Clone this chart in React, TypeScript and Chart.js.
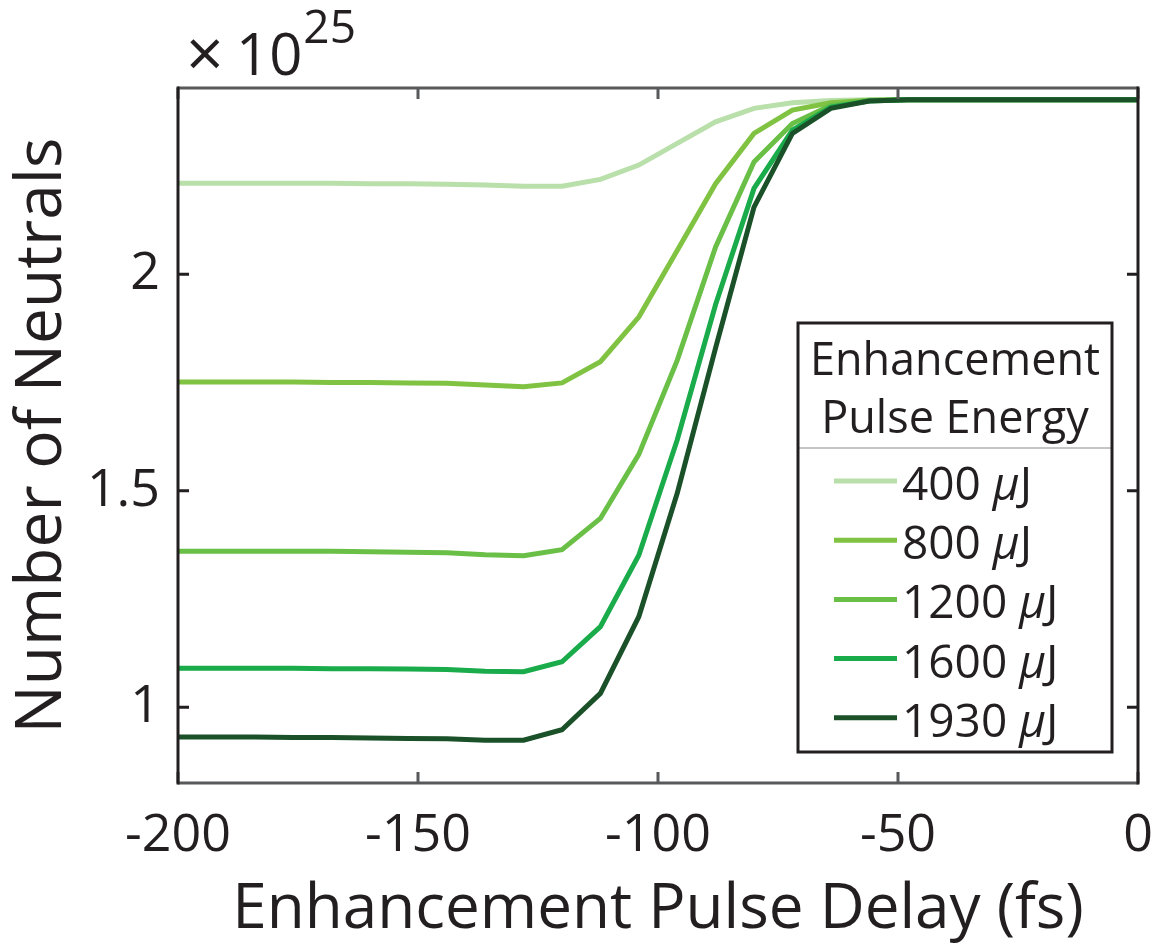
import React, { useEffect, useRef } from 'react';
import { Chart, registerables } from 'chart.js';

Chart.register(...registerables);

// ---- data ----
const delays = [-200, -192, -184, -176, -168, -160, -152, -144, -136, -128, -120, -112, -104, -96, -88, -80, -72, -64, -56, -48, -40, -32, -24, -16, -8, 0];
const neutrals400 = [2.210, 2.210, 2.210, 2.210, 2.210, 2.209, 2.209, 2.208, 2.206, 2.203, 2.203, 2.219, 2.252, 2.302, 2.352, 2.383, 2.396, 2.401, 2.403, 2.403, 2.403, 2.403, 2.403, 2.403, 2.403, 2.403];
const neutrals800 = [1.751, 1.751, 1.751, 1.751, 1.750, 1.750, 1.749, 1.748, 1.744, 1.740, 1.749, 1.798, 1.901, 2.055, 2.209, 2.325, 2.379, 2.396, 2.402, 2.403, 2.403, 2.403, 2.403, 2.403, 2.403, 2.403];
const neutrals1200 = [1.360, 1.360, 1.360, 1.360, 1.360, 1.359, 1.358, 1.357, 1.352, 1.350, 1.364, 1.436, 1.584, 1.801, 2.063, 2.259, 2.348, 2.390, 2.401, 2.403, 2.403, 2.403, 2.403, 2.403, 2.403, 2.403];
const neutrals1600 = [1.090, 1.090, 1.090, 1.090, 1.089, 1.089, 1.088, 1.087, 1.083, 1.082, 1.105, 1.186, 1.351, 1.617, 1.930, 2.198, 2.333, 2.386, 2.400, 2.403, 2.403, 2.403, 2.403, 2.403, 2.403, 2.403];
const neutrals1930 = [0.931, 0.931, 0.931, 0.930, 0.930, 0.929, 0.928, 0.927, 0.924, 0.924, 0.948, 1.032, 1.209, 1.494, 1.830, 2.155, 2.325, 2.383, 2.400, 2.403, 2.403, 2.403, 2.403, 2.403, 2.403, 2.403];

const seriesEnergies = ['400', '800', '1200', '1600', '1930'];
const seriesValues = [neutrals400, neutrals800, neutrals1200, neutrals1600, neutrals1930];
const seriesColors = ['#b9dfaa', '#80c342', '#6abf47', '#1aab4b', '#1b5128'];

const xTickValues = [-200, -150, -100, -50, 0];
const yTickValues = [1, 1.5, 2];
const xMin = -200;
const xMax = 0;
const yMin = 0.825;
const yMax = 2.43;

const legendTitle = ['Enhancement', 'Pulse Energy'];
const xTitle = 'Enhancement Pulse Delay (fs)';
const yTitle = 'Number of Neutrals';
const exponentTimes = '\u00d7';
const exponentBase = '10';
const exponentPower = '25';

const FONT = "'Open Sans', 'DejaVu Sans', sans-serif";
const TEXT = '#231f20';
const AXIS_DARK = '#231f20';
const AXIS_GREY = '#58595b';

const boxPlugin = {
  id: 'matlabBox',
  afterDatasetsDraw(chart: any) {
    const { ctx, chartArea: ca, scales } = chart;
    const xs = scales.x;
    const ys = scales.y;
    const tl = 11;
    ctx.save();
    ctx.lineWidth = 3;
    ctx.lineCap = 'butt';
    // top & bottom (grey)
    ctx.strokeStyle = AXIS_GREY;
    ctx.beginPath();
    ctx.moveTo(ca.left, ca.top); ctx.lineTo(ca.right, ca.top);
    ctx.moveTo(ca.left, ca.bottom); ctx.lineTo(ca.right, ca.bottom);
    xTickValues.forEach((v) => {
      const px = xs.getPixelForValue(v);
      ctx.moveTo(px, ca.top); ctx.lineTo(px, ca.top + tl);
      ctx.moveTo(px, ca.bottom); ctx.lineTo(px, ca.bottom - tl);
    });
    ctx.stroke();
    // left & right (dark)
    ctx.strokeStyle = AXIS_DARK;
    ctx.beginPath();
    ctx.moveTo(ca.left, ca.top - 1.5); ctx.lineTo(ca.left, ca.bottom + 1.5);
    ctx.moveTo(ca.right, ca.top - 1.5); ctx.lineTo(ca.right, ca.bottom + 1.5);
    yTickValues.forEach((v) => {
      const py = ys.getPixelForValue(v);
      ctx.moveTo(ca.left, py); ctx.lineTo(ca.left + tl, py);
      ctx.moveTo(ca.right, py); ctx.lineTo(ca.right - tl, py);
    });
    ctx.stroke();
    // exponent label
    ctx.fillStyle = TEXT;
    ctx.textBaseline = 'alphabetic';
    ctx.textAlign = 'left';
    ctx.font = `66px ${FONT}`;
    ctx.fillText(exponentTimes, ca.left + 8, ca.top - 11);
    ctx.font = `58px ${FONT}`;
    ctx.fillText(exponentBase, ca.left + 58, ca.top - 13);
    const w = ctx.measureText(exponentBase).width;
    ctx.font = `46px ${FONT}`;
    ctx.fillText(exponentPower, ca.left + 58 + w + 1, ca.top - 45);
    ctx.restore();
  },
};

const legendPlugin = {
  id: 'boxLegend',
  afterDraw(chart: any) {
    const { ctx, chartArea: ca } = chart;
    const right = ca.right - 26;
    const bottom = ca.bottom - 31;
    const left = right - 314;
    const top = bottom - 429;
    const cx = (left + right) / 2;
    ctx.save();
    ctx.fillStyle = '#ffffff';
    ctx.fillRect(left, top, right - left, bottom - top);
    // title
    ctx.fillStyle = TEXT;
    ctx.textAlign = 'center';
    ctx.textBaseline = 'alphabetic';
    ctx.font = `45px ${FONT}`;
    ctx.fillText(legendTitle[0], cx, top + 52);
    ctx.fillText(legendTitle[1], cx, top + 110);
    // separator
    ctx.strokeStyle = '#8a8a8a';
    ctx.lineWidth = 1;
    ctx.beginPath();
    ctx.moveTo(left, top + 125);
    ctx.lineTo(right, top + 125);
    ctx.stroke();
    // items
    chart.data.datasets.forEach((ds: any, i: number) => {
      const yc = top + 158 + i * 59.2;
      ctx.strokeStyle = ds.borderColor;
      ctx.lineWidth = 5;
      ctx.beginPath();
      ctx.moveTo(left + 36, yc);
      ctx.lineTo(left + 99, yc);
      ctx.stroke();
      ctx.fillStyle = TEXT;
      ctx.textAlign = 'left';
      ctx.font = `46px ${FONT}`;
      const base = yc + 19;
      let x = left + 104;
      const num = seriesEnergies[i] + ' ';
      ctx.fillText(num, x, base);
      x += ctx.measureText(num).width;
      ctx.font = `italic 46px ${FONT}`;
      ctx.fillText('\u03bc', x, base);
      x += ctx.measureText('\u03bc').width;
      ctx.font = `46px ${FONT}`;
      ctx.fillText('J', x, base);
    });
    ctx.strokeStyle = AXIS_DARK;
    ctx.lineWidth = 3;
    ctx.strokeRect(left, top, right - left, bottom - top);
    ctx.restore();
  },
};

export default function App() {
  const canvasRef = useRef<HTMLCanvasElement | null>(null);

  useEffect(() => {
    if (!canvasRef.current) return;
    const chart = new Chart(canvasRef.current, {
      type: 'line',
      data: {
        datasets: seriesValues.map((vals, i) => ({
          label: `${seriesEnergies[i]} \u03bcJ`,
          data: delays.map((d, j) => ({ x: d, y: vals[j] })),
          borderColor: seriesColors[i],
          backgroundColor: seriesColors[i],
          borderWidth: 5,
          pointRadius: 0,
          tension: 0,
          fill: false,
          order: seriesValues.length - 1 - i,
        })),
      },
      options: {
        responsive: false,
        animation: false,
        layout: { padding: { top: 88, right: 24, left: 0, bottom: 0 } },
        plugins: {
          legend: { display: false },
          tooltip: { enabled: false },
        },
        scales: {
          x: {
            type: 'linear',
            min: xMin,
            max: xMax,
            afterBuildTicks: (scale: any) => {
              scale.ticks = xTickValues.map((v) => ({ value: v }));
            },
            afterFit: (scale: any) => {
              scale.height = 169;
              scale.paddingLeft = 0;
              scale.paddingRight = 0;
            },
            grid: { display: false, drawTicks: false },
            border: { display: false },
            ticks: {
              font: { family: FONT, size: 52 },
              color: TEXT,
              padding: 22,
              maxRotation: 0,
              autoSkip: false,
              callback: (v: any) => String(v),
            },
            title: {
              display: true,
              text: xTitle,
              font: { family: FONT, size: 62 },
              color: TEXT,
              padding: { top: 0, bottom: 4 },
            },
          },
          y: {
            type: 'linear',
            min: yMin,
            max: yMax,
            afterBuildTicks: (scale: any) => {
              scale.ticks = yTickValues.map((v) => ({ value: v }));
            },
            afterFit: (scale: any) => {
              scale.width = 178;
              scale.paddingTop = 0;
              scale.paddingBottom = 0;
            },
            grid: { display: false, drawTicks: false },
            border: { display: false },
            ticks: {
              font: { family: FONT, size: 52 },
              color: TEXT,
              padding: 18,
              autoSkip: false,
              callback: (v: any) => String(v),
            },
            title: {
              display: true,
              text: yTitle,
              font: { family: FONT, size: 64 },
              color: TEXT,
              padding: { top: 4, bottom: 0 },
            },
          },
        },
      },
      plugins: [boxPlugin, legendPlugin],
    } as any);
    return () => chart.destroy();
  }, []);

  return (
    <div style={{ position: 'absolute', left: 0, top: 0, width: 1162, height: 952, background: '#fff' }}>
      <canvas ref={canvasRef} width={1162} height={952} style={{ display: 'block' }} />
    </div>
  );
}
